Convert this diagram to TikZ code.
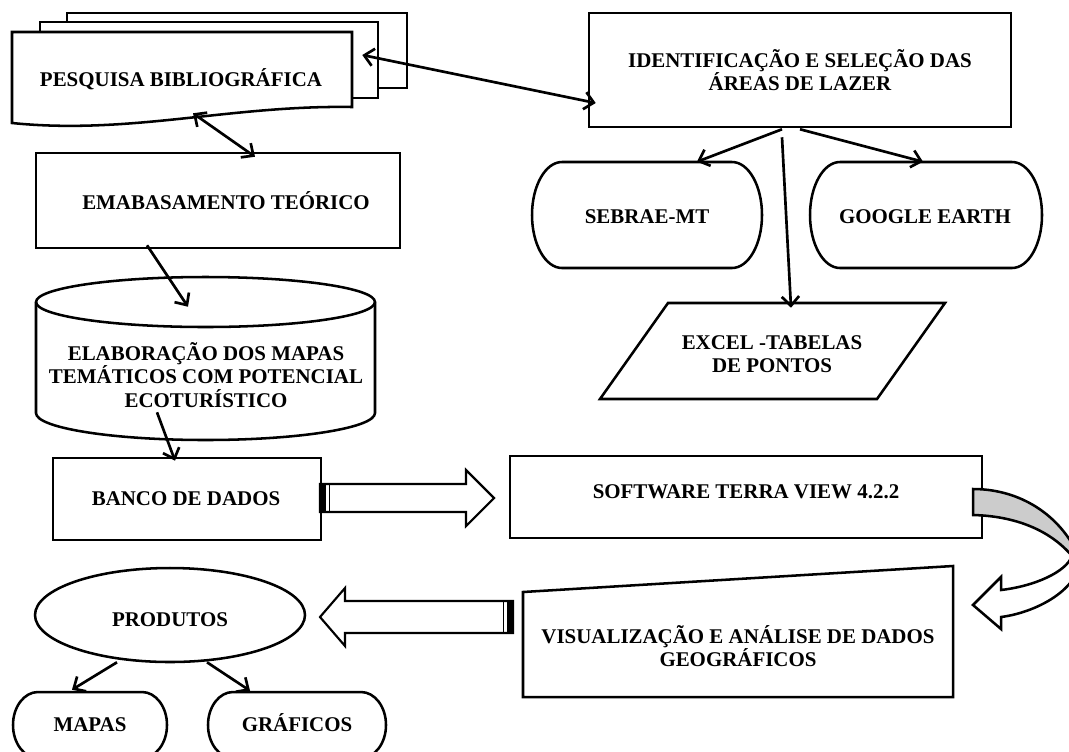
\documentclass[tikz,border=0pt]{standalone}
\usepackage{fontspec}
\setmainfont{Liberation Serif}
\usetikzlibrary{arrows.meta,calc,shapes.geometric}
\newcommand\stadpath[5]{%
  \pgfmathsetmacro\stA{#1+#5}\pgfmathsetmacro\stB{#3-#5}%
  \pgfmathsetmacro\stM{(#2+#4)/2}\pgfmathsetmacro\stK{0.5523*#5}%
  \pgfmathsetmacro\stH{0.5523*(#4-#2)/2}%
  \draw[ln,fill=white] (\stA,#2) -- (\stB,#2)
    .. controls ({\stB+\stK},#2) and (#3,{\stM-\stH}) .. (#3,\stM)
    .. controls (#3,{\stM+\stH}) and ({\stB+\stK},#4) .. (\stB,#4)
    -- (\stA,#4)
    .. controls ({\stA-\stK},#4) and (#1,{\stM+\stH}) .. (#1,\stM)
    .. controls (#1,{\stM-\stH}) and ({\stA-\stK},#2) .. cycle;}
\begin{document}
\begin{tikzpicture}[x=0.75pt,y=-0.75pt,
  ln/.style={line width=1.9pt,line join=miter},
  box/.style={draw,line width=1.9pt,inner sep=0pt},
  area/.style={draw=none,inner sep=0pt},
  conn/.style={line width=2pt,-{Straight Barb[length=7pt,width=13pt]}},
  dconn/.style={line width=2pt,{Straight Barb[length=7pt,width=13pt]}-{Straight Barb[length=7pt,width=13pt]}},
  txt/.style={font=\fontsize{15.7}{17.6}\selectfont\bfseries,align=center,inner sep=0pt},
  txt1/.style={txt,text height=10.4pt,text depth=0pt}]
\clip (0,0) rectangle (1069,751);
\fill[white] (0,0) rectangle (1069,751);
% ---------- area nodes ----------
\node[area,minimum width=340*0.75pt,minimum height=93*0.75pt] (pesq) at (182,78.5) {};
\node[box,minimum width=422*0.75pt,minimum height=114*0.75pt] (ident) at (800,70) {};
\node[box,minimum width=364*0.75pt,minimum height=95*0.75pt] (emab) at (218,200.5) {};
\node[area,minimum width=230*0.75pt,minimum height=106*0.75pt] (sebrae) at (647,215) {};
\node[area,minimum width=232*0.75pt,minimum height=106*0.75pt] (google) at (926,215) {};
\node[area,minimum width=339*0.75pt,minimum height=163*0.75pt] (cyl) at (205.5,358.5) {};
\node[area,minimum width=345*0.75pt,minimum height=96*0.75pt] (excel) at (772.5,351) {};
\node[box,minimum width=268*0.75pt,minimum height=82*0.75pt] (banco) at (187,499) {};
\node[box,minimum width=472*0.75pt,minimum height=82*0.75pt] (terra) at (746,497) {};
\node[area,minimum width=430*0.75pt,minimum height=131*0.75pt] (vis) at (738,631.5) {};
\node[ellipse,draw,line width=1.9pt,inner sep=0pt,minimum width=270*0.75pt,minimum height=94*0.75pt] (prod) at (170,615) {};
\node[area,minimum width=154*0.75pt,minimum height=66*0.75pt] (mapas) at (90,725) {};
\node[area,minimum width=178*0.75pt,minimum height=66*0.75pt] (graf) at (297,725) {};
% ---------- shapes ----------
% multi-document
\draw[ln,fill=white] (67,13) rectangle (407,88);
\draw[ln,fill=white] (40,22) rectangle (378,98);
\draw[ln,fill=white] (12,32) -- (352,32) -- (352,107) .. controls (230,105) and (130,135) .. (12,123) -- cycle;
% terminators
\stadpath{532}{162}{762}{268}{30}
\stadpath{810}{162}{1042}{268}{30}
\stadpath{13}{692}{167}{758}{25}
\stadpath{208}{692}{386}{758}{25}
% cylinder
\draw[ln,fill=white] (36,302) -- (36,413)
  .. controls (36,427.9) and (111.9,440) .. (205.5,440)
  .. controls (299.1,440) and (375,427.9) .. (375,413) -- (375,302)
  .. controls (375,288.2) and (299.1,277) .. (205.5,277)
  .. controls (111.9,277) and (36,288.2) .. (36,302) -- cycle;
\draw[ln] (36,302) .. controls (36,315.8) and (111.9,327) .. (205.5,327)
  .. controls (299.1,327) and (375,315.8) .. (375,302);
% parallelogram
\draw[ln] (668,303) -- (945,303) -- (877,399) -- (600,399) -- cycle;
% visualizacao (manual input)
\draw[ln] (523,592) -- (953,566) -- (953,697) -- (523,697) -- cycle;
% block arrow right
\draw[line width=1.6pt,fill=white] (320,484) -- (466,484) -- (466,470) -- (494,498) -- (466,526) -- (466,512) -- (320,512) -- cycle;
\fill (320,484) rectangle (326,512);
\draw[line width=1pt] (329.5,484) -- (329.5,512);
% block arrow left
\draw[line width=1.6pt,fill=white] (320,617) -- (345,588) -- (345,601) -- (513,601) -- (513,633) -- (345,633) -- (345,646) -- cycle;
\fill (507,601) rectangle (513,633);
\draw[line width=1pt] (503.5,601) -- (503.5,633);
% curved arrow
\draw[ln,fill=black!20] (973,489) .. controls (1020,489) and (1060,515) .. (1078,555) -- (1072,556)
  .. controls (1050,530) and (1015,516) .. (973,515) -- cycle;
\draw[ln,fill=white] (1078,555) .. controls (1085,585) and (1040,612) .. (1001,617) -- (1001,629) -- (973,605)
  -- (1001,577) -- (1001,590) .. controls (1035,586) and (1066,572) .. (1072,556) -- cycle;
% ---------- texts ----------
\node[txt1] (tpesq) at (181,80) {PESQUISA BIBLIOGRÁFICA};
\node[txt] (tident) at (800,70) {IDENTIFICAÇÃO E SELEÇÃO DAS\\ÁREAS DE LAZER};
\node[txt1] (temab) at (226,203) {EMABASAMENTO TEÓRICO};
\node[txt1] (tsebrae) at (647,217) {SEBRAE-MT};
\node[txt1] (tgoogle) at (925,217) {GOOGLE EARTH};
\node[txt] (tcyl) at (206,375) {ELABORAÇÃO DOS MAPAS\\TEMÁTICOS COM POTENCIAL\\ECOTURÍSTICO};
\node[txt] (texcel) at (772,354) {EXCEL -TABELAS\\DE PONTOS};
\node[txt1] (tbanco) at (186,499) {BANCO DE DADOS};
\node[txt1] (tterra) at (746,492) {SOFTWARE TERRA VIEW 4.2.2};
\node[txt] (tvis) at (738,646) {VISUALIZAÇÃO E ANÁLISE DE DADOS\\GEOGRÁFICOS};
\node[txt1] (tprod) at (170,620) {PRODUTOS};
\node[txt1] (tmapas) at (90,725) {MAPAS};
\node[txt1] (tgraf) at (297,725) {GRÁFICOS};
% ---------- connectors ----------
\draw[dconn] ($(pesq.east)+(10,-23.5)$) -- ($(ident.west)+(8,33)$);
\draw[dconn] ($(pesq.south)+(11,-12)$) -- ($(emab.north)+(37,5)$);
\draw[conn] ($(emab.south)+(-71,-4)$) -- ($(cyl.north)+(-17.5,30)$);
\draw[conn] ($(cyl.south)+(-48.5,-28)$) -- ($(banco.north)+(-12,4)$);
\draw[conn] ($(ident.south)+(-18,1)$) -- ($(sebrae.north)+(50,0)$);
\draw[conn] ($(ident.south)+(0,1)$) -- ($(google.north)+(-3,0)$);
\draw[conn] ($(ident.south)+(-18,9)$) -- ($(excel.north)+(18.5,5)$);
\draw[conn] ($(prod.south)+(-53,-1)$) -- ($(mapas.north)+(-18,-2)$);
\draw[conn] ($(prod.south)+(37,-1)$) -- ($(graf.north)+(-47,-1)$);
\end{tikzpicture}
\end{document}
